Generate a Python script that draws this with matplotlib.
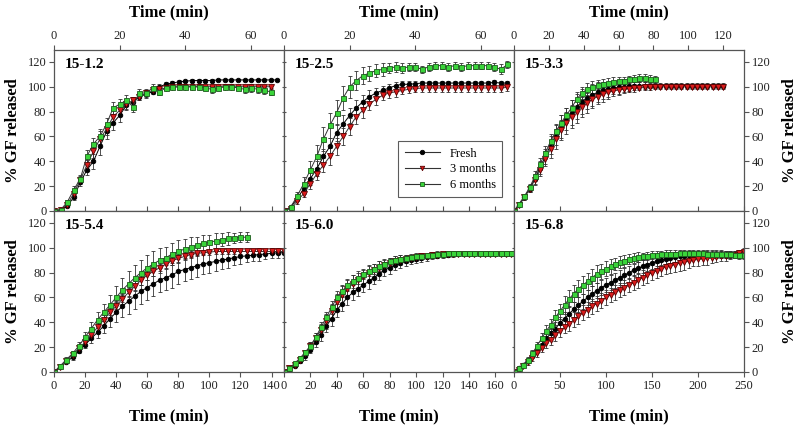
import numpy as np
import matplotlib
matplotlib.use("Agg")
import matplotlib.pyplot as plt
from matplotlib.lines import Line2D

plt.rcParams['font.family'] = ['Liberation Serif', 'DejaVu Serif']

# ---------------- data ----------------
labels = ['Fresh', '3 months', '6 months']
titles = ['15-1.2', '15-2.5', '15-3.3', '15-5.4', '15-6.0', '15-6.8']

# 15-1.2  (every 2 min)
t1_fresh = np.arange(0, 69, 2)
t1_3m = np.arange(0, 67, 2)
t1_6m = np.arange(0, 67, 2)
y1_fresh = [0, 1, 4, 11, 23, 33, 40, 52, 64, 71, 77, 85, 88, 92, 94, 96, 100, 102, 103, 104,
            104.5, 105, 105, 105, 105, 105.5, 105.5, 105.5, 105.5, 105.5, 105.5, 105.5, 105.5, 105.5, 105.5]
e1_fresh = [0, 0.5, 1, 2, 3, 4, 6, 7, 6, 6, 5, 4, 4, 3, 3, 2, 2, 2, 1.5, 1.5,
            1, 1, 1, 1, 1, 1, 1, 1, 1, 1, 1, 1, 1, 1, 1]
y1_3m = [0, 1, 5, 14, 25, 37, 48, 58, 66, 76, 81, 86, 89, 92, 95, 97, 98, 99, 99.5, 100,
         100, 100, 100, 100, 100, 100, 100, 100, 100, 100, 100, 100, 100, 100]
e1_3m = [0, 0.5, 1, 2, 3, 4, 5, 6, 5, 5, 4, 4, 3, 3, 2, 2, 2, 2, 1.5, 1.5,
         1.5, 1.5, 1.5, 1.5, 1.5, 1.5, 1.5, 1.5, 1.5, 1.5, 1.5, 1.5, 1.5, 1.5]
y1_6m = [0, 1, 7, 17, 26, 44, 54, 60, 70, 83, 86, 89, 84, 95, 95, 99, 96, 99, 100, 100,
         100, 100, 100, 99, 98, 99, 100, 100, 99, 98, 99, 98, 97, 96]
e1_6m = [0, 1, 2, 3, 3, 5, 5, 6, 5, 5, 4, 4, 4, 3, 3, 3, 3, 2, 2, 2,
         2, 2, 2, 2, 3, 2, 2, 2, 2, 3, 3, 3, 3, 3]

# 15-2.5  (every 2 min)
t2 = np.arange(0, 69, 2)
y2_fresh = [0, 3, 10, 18, 26, 34, 44, 52, 63, 70, 77, 83, 88, 92, 95, 97, 99, 101, 102, 102,
            102.5, 103, 103, 103, 103, 103, 103, 103, 103, 103, 103, 103, 103.5, 103, 103]
e2_fresh = [0, 1, 2, 4, 5, 6, 6, 7, 7, 7, 6, 6, 5, 5, 4, 4, 3, 3, 3, 2.5,
            2, 2, 2, 2, 2, 2, 2, 2, 2, 2, 2, 2, 2, 2, 2]
y2_3m = [0, 2, 8, 14, 22, 30, 37, 44, 52, 60, 68, 76, 81, 86, 90, 93, 95, 96, 97, 98,
         98.5, 99, 99, 99, 99, 99, 99, 99, 99, 99, 99, 99, 99, 99, 99.5]
e2_3m = [0, 1, 2, 3, 4, 5, 6, 7, 7, 7, 7, 6, 6, 5, 5, 4, 4, 4, 3, 3,
         3, 3, 3, 3, 3, 3, 3, 3, 3, 3, 3, 3, 3, 3, 3]
y2_6m = [0, 3, 12, 22, 33, 44, 58, 69, 79, 91, 100, 105, 109, 111, 113, 114, 115, 116, 115, 116,
         116, 114, 116, 117, 117, 116, 117, 116, 117, 117, 117, 117, 116, 114, 118]
e2_6m = [0, 1, 3, 5, 7, 9, 10, 10, 10, 10, 9, 8, 7, 6, 5, 5, 4, 4, 4, 3,
         3, 3, 3, 3, 3, 3, 3, 3, 3, 3, 3, 3, 3, 4, 3]

# 15-3.3  (every 3 min)
t3_fresh = np.arange(0, 121, 3)
t3_3m = np.arange(0, 121, 3)
t3_6m = np.arange(0, 82, 3)
y3_fresh = [0, 5, 11, 18, 26, 35, 44, 53, 61, 68, 74, 79, 84, 88, 91, 93.5, 95.5, 97, 98, 99,
            99.5, 100, 100.5, 100.5, 101, 101, 101, 101, 101, 101, 101, 101, 101, 101, 101, 101,
            101, 101, 101, 101, 101]
e3_fresh = [0, 1, 2, 3, 4, 5, 6, 7, 8, 9, 9, 10, 10, 10, 9, 9, 8, 7, 6, 5,
            5, 4, 4, 3, 3, 3, 2, 2, 2, 2, 2, 2, 2, 2, 2, 2, 2, 2, 2, 2, 2]
y3_3m = [0, 5, 11, 18, 25, 33, 42, 50, 58, 65, 71, 76, 80, 84, 87, 90, 92, 94, 95.5, 96.5,
         97.5, 98, 98.5, 99, 99, 99.5, 99.5, 100, 100, 100, 100, 100, 100, 100, 100, 100,
         100, 100, 100, 100, 100]
e3_3m = [0, 1, 2, 3, 4, 5, 6, 7, 8, 8, 9, 9, 9, 8, 8, 7, 6, 6, 5, 4,
         4, 3, 3, 3, 2, 2, 2, 2, 2, 2, 2, 2, 2, 2, 2, 2, 2, 2, 2, 2, 2]
y3_6m = [0, 6, 12, 19, 28, 38, 47, 56, 64, 71, 77, 83, 90, 95, 98, 100, 101.5, 102.5, 103, 104,
         105, 105, 106, 106.5, 107, 107, 106.5, 106]
e3_6m = [0, 1, 2, 3, 4, 5, 5, 6, 6, 6, 6, 6, 6, 5, 5, 5, 4, 4, 4, 4,
         3, 3, 3, 3, 3, 3, 3, 3]

# 15-5.4  (every 4 min)
t4_fresh = np.arange(0, 149, 4)
t4_3m = np.arange(0, 149, 4)
t4_6m = np.arange(0, 125, 4)
y4_fresh = [0, 4, 8, 12, 17, 22, 27, 32, 37, 43, 48, 53, 57, 61, 65, 68, 71, 74, 76, 78,
            81, 82.5, 84, 85.5, 87, 88, 89, 90, 91, 92, 93, 93.5, 94, 94.5, 95, 95.5, 96, 96]
e4_fresh = [0, 1, 1, 2, 2, 3, 4, 5, 6, 7, 8, 9, 10, 10, 10, 10, 10, 10, 10, 10,
            10, 9, 9, 9, 8, 8, 8, 7, 7, 6, 6, 5, 5, 5, 4, 4, 4, 4]
y4_3m = [0, 4, 9, 14, 19, 24, 30, 36, 42, 48, 53, 59, 64, 69, 74, 78, 81, 84, 87, 89.5,
         91.5, 93, 94.5, 95.5, 96, 96.5, 97, 97, 97, 97, 97, 97, 97, 97, 97, 97, 97, 97]
e4_3m = [0, 1, 1, 2, 2, 3, 3, 4, 4, 4, 4, 4, 4, 4, 4, 4, 4, 3, 3, 3,
         3, 3, 3, 2, 2, 2, 2, 2, 2, 2, 2, 2, 2, 2, 2, 2, 2, 2]
y4_6m = [0, 5, 10, 15, 21, 28, 35, 42, 48, 54, 60, 66, 71, 76, 80, 84, 87, 90, 92, 95,
         97, 99, 100.5, 102, 103.5, 104.5, 105.5, 106.5, 107.5, 108, 108.5, 108.5]
e4_6m = [0, 1, 2, 2, 3, 4, 5, 6, 7, 8, 9, 10, 10, 10, 10, 10, 10, 10, 9, 9,
         9, 8, 8, 7, 7, 6, 6, 5, 5, 4, 4, 4]

# 15-6.0  (every 4 min)
t5 = np.arange(0, 173, 4)
y5_fresh = [0, 2, 5, 9, 13, 18, 24, 30, 37, 43, 50, 55, 60, 64, 67, 70, 73, 76, 79, 82,
            84, 86, 87.5, 89, 90, 90.6, 91.5, 92.5, 93, 93.5, 94, 94.3, 94.6, 95, 95, 95,
            95, 95, 95, 95, 95, 95, 95, 95]
e5_fresh = [0, 1, 1, 2, 3, 3, 4, 5, 5, 6, 6, 6, 6, 6, 6, 6, 6, 5, 5, 5,
            5, 4, 4, 4, 3, 3, 3, 3, 2, 2, 2, 2, 2, 2, 2, 1.5, 1.5, 1.5, 1.5, 1.5, 1.5, 1.5, 1.5, 1.5]
y5_3m = [0, 3, 6, 10, 15, 21, 27, 34, 41, 49, 56, 62, 67, 71, 74, 77, 80, 82, 84, 86,
         88, 89, 90, 91, 92, 92.5, 93, 93.5, 94, 94.5, 94.6, 95, 95, 95, 95, 95, 95,
         95, 95, 95, 95, 95, 95, 95]
e5_3m = [0, 1, 1, 2, 3, 3, 4, 5, 6, 6, 7, 7, 7, 7, 6, 6, 6, 5, 5, 5,
         4, 4, 4, 3, 3, 3, 3, 2, 2, 2, 2, 2, 2, 2, 1.5, 1.5, 1.5, 1.5, 1.5, 1.5, 1.5, 1.5, 1.5, 1.5]
y5_6m = [0, 3, 7, 11, 16, 21, 28, 36, 44, 52, 60, 65, 70, 73, 76, 78.5, 81, 83, 85, 87,
         89, 90, 91, 92, 92.5, 93, 93.5, 94, 94.5, 95, 95, 95.4, 95.4, 95.4, 95.4, 95.4, 95.4,
         95.4, 95.4, 95.4, 95.4, 95.4, 95.4, 95.4]
e5_6m = [0, 1, 1, 2, 2, 3, 3, 4, 4, 5, 5, 5, 5, 5, 5, 4, 4, 4, 4, 3,
         3, 3, 3, 2, 2, 2, 2, 2, 2, 2, 1.5, 1.5, 1.5, 1.5, 1.5, 1.5, 1.5, 1.5, 1.5, 1.5, 1.5, 1.5, 1.5, 1.5]

# 15-6.8  (every 5 min)
t6 = np.arange(0, 251, 5)
y6_fresh = [0, 3, 6, 9, 13, 18, 22, 27, 31, 35, 39.5, 43, 47, 50.5, 54, 57, 60, 63, 65.5, 68,
            70, 72, 74, 76, 78, 80, 82, 83.5, 85, 86.5, 88, 89, 90, 91, 92, 92.5, 93, 93.5,
            94, 94.3, 94.6, 94.5, 94.5, 94.5, 94.5, 94.5, 94.5, 94.5, 94.5, 94.5, 94.5]
e6_fresh = [0, 1, 1, 2, 2, 3, 3, 4, 4, 5, 5, 5, 6, 6, 6, 6, 6, 6, 6, 6,
            6, 6, 6, 6, 6, 5, 5, 5, 5, 5, 5, 4, 4, 4, 4, 4, 3, 3, 3, 3,
            3, 3, 3, 3, 3, 3, 3, 3, 3, 3, 3]
y6_3m = [0, 2, 5, 8, 11, 15, 19, 23, 26, 30, 33, 36, 39, 42, 45, 47.6, 50, 53, 55, 57.5,
         60, 62, 64, 66, 68, 70, 72, 74, 76, 78, 80, 81.5, 83, 84.5, 85.5, 86.5, 87.5, 88.5,
         89, 90, 90.6, 91, 91.5, 92, 92.5, 93, 93.5, 94, 94.5, 95.5, 96.5]
e6_3m = [0, 1, 1, 2, 2, 3, 3, 4, 4, 5, 5, 5, 6, 6, 6, 6, 6, 6, 6, 6,
         6, 6, 6, 6, 6, 6, 6, 6, 6, 6, 6, 6, 6, 6, 6, 6, 6, 6, 5, 5,
         5, 5, 5, 4, 4, 4, 4, 3, 3, 3, 3]
y6_6m = [0, 3, 6, 10, 15, 21, 27, 33, 38, 44, 49, 54, 59, 63, 67, 70, 73, 76, 79, 81,
         83, 85, 87, 88.5, 89.5, 90.6, 91.5, 92.3, 93, 93.5, 94, 94.5, 94.8, 95, 95, 95.2,
         95.4, 95.4, 95.4, 95.4, 95.4, 95.4, 95.3, 95.2, 95, 95, 94.8, 94.6, 94.4, 94.2, 94]
e6_6m = [0, 1, 1, 2, 3, 3, 4, 5, 5, 6, 6, 7, 7, 7, 7, 7, 7, 7, 7, 6,
         6, 6, 5, 5, 5, 4, 4, 4, 3, 3, 3, 3, 3, 3, 3, 3, 3, 3, 3, 3,
         3, 3, 3, 3, 3, 3, 3, 3, 3, 3, 3]

panels = [
    [(t1_fresh, y1_fresh, e1_fresh), (t1_3m, y1_3m, e1_3m), (t1_6m, y1_6m, e1_6m)],
    [(t2, y2_fresh, e2_fresh), (t2, y2_3m, e2_3m), (t2, y2_6m, e2_6m)],
    [(t3_fresh, y3_fresh, e3_fresh), (t3_3m, y3_3m, e3_3m), (t3_6m, y3_6m, e3_6m)],
    [(t4_fresh, y4_fresh, e4_fresh), (t4_3m, y4_3m, e4_3m), (t4_6m, y4_6m, e4_6m)],
    [(t5, y5_fresh, e5_fresh), (t5, y5_3m, e5_3m), (t5, y5_6m, e5_6m)],
    [(t6, y6_fresh, e6_fresh), (t6, y6_3m, e6_3m), (t6, y6_6m, e6_6m)],
]
xmax = [70, 70, 132, 148, 174, 250]
xstep = [20, 20, 20, 20, 20, 50]

styles = [
    dict(marker='o', color='k', mfc='k', mec='k', ms=3.3),
    dict(marker='v', color='#333333', mfc='#d91c1c', mec='#5a0000', ms=3.8),
    dict(marker='s', color='#333333', mfc='#3ad43a', mec='#1d5a1d', ms=3.6),
]

# ---------------- figure ----------------
fig = plt.figure(figsize=(8, 4.26), dpi=100)
W, H = 800, 426
lefts = [54, 284, 514]
pw = 230
ph = 161.5
bottoms = [211, 372]

bold = dict(fontsize=12, fontweight='bold')
for i in range(6):
    row, col = divmod(i, 3)
    ax = fig.add_axes([lefts[col] / W, 1 - bottoms[row] / H, pw / W, ph / H])
    for (t, y, e), st in zip(panels[i], styles):
        ax.errorbar(t, y, yerr=e, fmt='-' + st['marker'], color=st['color'], mfc=st['mfc'],
                    mec=st['mec'], ms=st['ms'], mew=0.6, lw=0.7,
                    ecolor='#333333', elinewidth=0.6, capsize=1.6, capthick=0.6)
    ax.set_xlim(0, xmax[i])
    ax.set_ylim(0, 130)
    ax.set_xticks(np.arange(0, xmax[i] + 0.1, xstep[i]))
    ax.set_yticks(np.arange(0, 121, 20))
    for s in ax.spines.values():
        s.set_color('#555555')
        s.set_linewidth(0.9)
    ax.tick_params(colors='#555555', labelcolor='#222222', labelsize=9,
                   length=3.5, width=0.8, direction='out', pad=2)

    if row == 0:
        ax.xaxis.tick_top()
        ax.xaxis.set_label_position('top')
        ax.tick_params(axis='x', top=True, bottom=True, labeltop=True, labelbottom=False)
        ax.set_xlabel('Time (min)', labelpad=10, **bold)
    else:
        ax.tick_params(axis='x', top=True, bottom=True, labeltop=False, labelbottom=True)
        ax.set_xlabel('Time (min)', labelpad=12, **bold)

    if col == 0:
        ax.set_ylabel('% GF released', labelpad=5, **bold)
    elif col == 2:
        ax.yaxis.tick_right()
        ax.yaxis.set_label_position('right')
        ax.set_ylabel('% GF released', labelpad=8, **bold)
    else:
        ax.tick_params(axis='y', left=True, right=True, labelleft=False,
                       labelright=False, direction='inout')

    ax.text(0.045, 0.95, titles[i], transform=ax.transAxes, ha='left', va='top',
            fontsize=11, fontweight='bold')

    if i == 1:
        handles = [Line2D([], [], color='#333333', lw=0.8, marker=st['marker'], mfc=st['mfc'],
                          mec=st['mec'], ms=3.2, mew=0.6) for st in styles]
        leg = ax.legend(handles, labels, loc='lower right', bbox_to_anchor=(0.975, 0.045),
                        fontsize=9, frameon=True, fancybox=False, edgecolor='#333333',
                        handlelength=2.8, borderpad=0.5, labelspacing=0.3)
        leg.get_frame().set_linewidth(0.8)

fig.savefig('out.png', dpi=100)
